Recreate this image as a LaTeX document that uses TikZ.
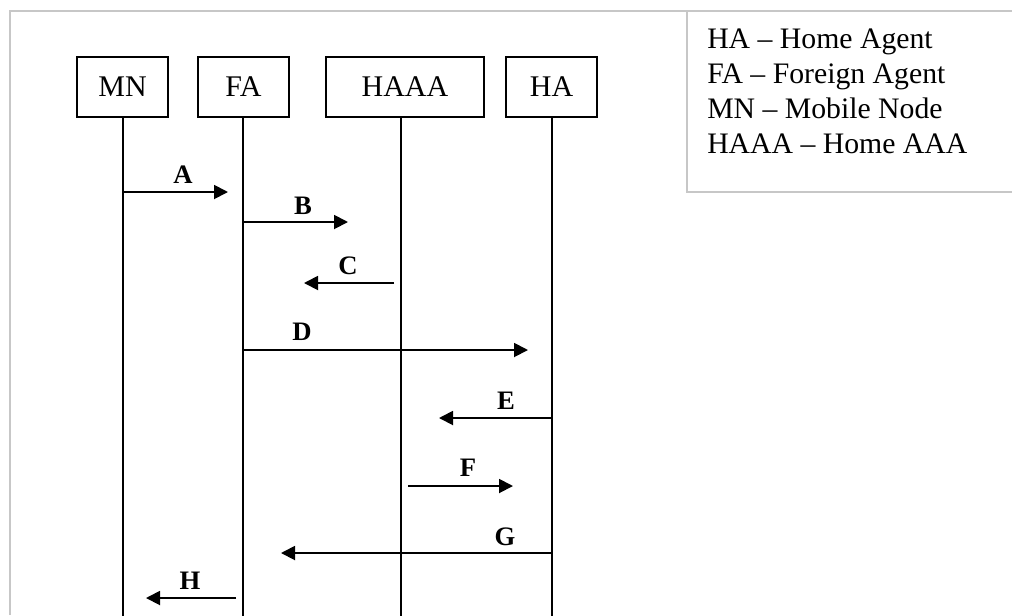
\documentclass[tikz,border=0pt]{standalone}
\usepackage{fontspec}
\setmainfont{Liberation Serif}
\usetikzlibrary{arrows.meta}
\begin{document}
\begin{tikzpicture}[x=0.75pt,y=-0.75pt,
  entity/.style={draw, line width=1.4pt, minimum height=45pt, inner sep=0pt,
    font=\fontsize{22.5}{26}\selectfont},
  lifeline/.style={line width=1.4pt},
  msg/.style={line width=1.4pt, -{Triangle[length=10.5pt,width=10.5pt]}},
  lbl/.style={font=\fontsize{20}{24}\selectfont\bfseries, inner sep=0pt},
  frame/.style={draw=black!22, line width=1.5pt},
  legend/.style={anchor=base west, inner sep=0pt, font=\fontsize{22.3}{26}\selectfont}]
  \useasboundingbox (0,0) rectangle (1012,615);

  % outer frame and legend box
  \draw[frame] (10,615) -- (10,11) -- (1013,11);
  \draw[frame] (687,11) -- (687,192) -- (1013,192);
  \node[legend] (l1) at (707,48)  {HA -- Home Agent};
  \node[legend] (l2) at (707,83)  {FA -- Foreign Agent};
  \node[legend] (l3) at (707,118) {MN -- Mobile Node};
  \node[legend] (l4) at (707,153) {HAAA -- Home AAA};

  % entities
  \node[entity, minimum width=68.25pt] (mn)   at (122.5,87) {MN};
  \node[entity, minimum width=68.25pt] (fa)   at (243.5,87) {FA};
  \node[entity, minimum width=118.5pt] (haaa) at (405,87)   {HAAA};
  \node[entity, minimum width=68.25pt] (ha)   at (551.5,87) {HA};

  % lifelines
  \coordinate (mnx) at (123,0);
  \coordinate (fax) at (243,0);
  \coordinate (haaax) at (401,0);
  \coordinate (hax) at (552,0);
  \coordinate (mnend) at (123,616);
  \coordinate (faend) at (243,616);
  \coordinate (haaaend) at (401,616);
  \coordinate (haend) at (552,616);
  \draw[lifeline] (mnx |- mn.south) -- (mnend);
  \draw[lifeline] (fax |- fa.south) -- (faend);
  \draw[lifeline] (haaax |- haaa.south) -- (haaaend);
  \draw[lifeline] (hax |- ha.south) -- (haend);

  % messages
  \coordinate (a2) at (228,192);
  \draw[msg] (mnx |- a2) -- (a2);
  \node[lbl] (la) at (183,175) {A};

  \coordinate (b2) at (348,222);
  \draw[msg] (fax |- b2) -- (b2);
  \node[lbl] (lb) at (303,206) {B};

  \coordinate (c1) at (394,283);
  \coordinate (c2) at (304,283);
  \draw[msg] (c1) -- (c2);
  \node[lbl] (lc) at (348,266) {C};

  \coordinate (d2) at (528,350);
  \draw[msg] (fax |- d2) -- (d2);
  \node[lbl] (ld) at (302,332) {D};

  \coordinate (e2) at (439,418);
  \draw[msg] (hax |- e2) -- (e2);
  \node[lbl] (le) at (506,401) {E};

  \coordinate (f1) at (408,486);
  \coordinate (f2) at (513,486);
  \draw[msg] (f1) -- (f2);
  \node[lbl] (lf) at (468,468) {F};

  \coordinate (g2) at (281,553);
  \draw[msg] (hax |- g2) -- (g2);
  \node[lbl] (lg) at (505,537) {G};

  \coordinate (h1) at (236,598);
  \coordinate (h2) at (146,598);
  \draw[msg] (h1) -- (h2);
  \node[lbl] (lh) at (190,581) {H};
\end{tikzpicture}
\end{document}
